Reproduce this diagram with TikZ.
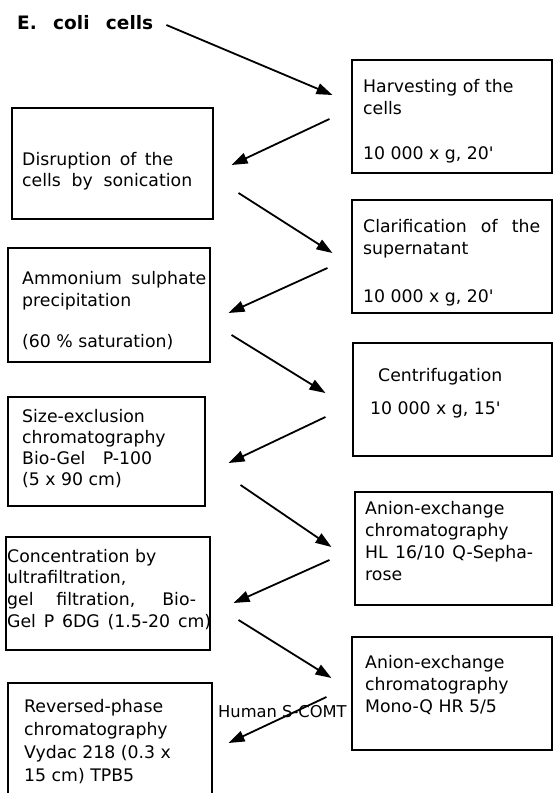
\documentclass[tikz,border=0pt]{standalone}
\usepackage{fontspec}
\setmainfont{DejaVu Sans}
\usetikzlibrary{arrows.meta}
\begin{document}
\begin{tikzpicture}[x=1pt,y=-1pt,
  box/.style={draw, line width=1.1pt, inner sep=0pt},
  txt/.style={anchor=west, inner sep=0pt, font=\fontsize{17.3pt}{21pt}\selectfont, text height=12.6pt, text depth=3.7pt},
  arr/.style={line width=1.8pt, -{Triangle[length=16pt,width=11pt]}}]
\fill[white] (0,0) rectangle (553,793);
\useasboundingbox (0,0) rectangle (553,793);

% title
\node[anchor=west, inner sep=0pt, font=\fontsize{18.5pt}{22pt}\bfseries\selectfont] (ecoli) at (17,23) {\makebox[136pt][s]{E. coli cells}};

% boxes
\node[box, minimum width=200pt, minimum height=113pt] (harv) at (452,116.5) {};
\node[box, minimum width=201pt, minimum height=111pt] (disr) at (112.5,163.5) {};
\node[box, minimum width=200pt, minimum height=113pt] (clar) at (452,256.5) {};
\node[box, minimum width=202pt, minimum height=114pt] (amm) at (109,305) {};
\node[box, minimum width=199pt, minimum height=113pt] (cent) at (452.5,399.5) {};
\node[box, minimum width=197pt, minimum height=109pt] (size) at (106.5,451.5) {};
\node[box, minimum width=197pt, minimum height=113pt] (anA) at (453.5,548.5) {};
\node[box, minimum width=204pt, minimum height=113pt] (conc) at (108,593.5) {};
\node[box, minimum width=200pt, minimum height=113pt] (anB) at (452,693.5) {};
\begin{scope}
\clip (0,0) rectangle (553,793);
\node[box, minimum width=204pt, minimum height=120pt] (rev) at (110,743) {};
\end{scope}

% texts
\node[txt] (h1) at (363,88) {Harvesting of the};
\node[txt] (h2) at (363,110) {cells};
\node[txt] (h3) at (363,155) {10 000 x g, 20\textquotesingle};

\node[txt] (d1) at (22,161) {\makebox[151pt][s]{Disruption of the}};
\node[txt] (d2) at (22,182) {\makebox[170pt][s]{cells by sonication}};

\node[txt] (c1) at (363,228) {\makebox[177pt][s]{Clarification of the}};
\node[txt] (c2) at (363,250) {supernatant};
\node[txt] (c3) at (363,298) {10 000 x g, 20\textquotesingle};

\node[txt] (a1) at (22,280) {\makebox[184pt][s]{Ammonium sulphate}};
\node[txt] (a2) at (22,302) {precipitation};
\node[txt] (a3) at (22,343) {(60 \% saturation)};

\node[txt] (e1) at (378,377) {Centrifugation};
\node[txt] (e2) at (370,410) {10 000 x g, 15\textquotesingle};

\node[txt] (s1) at (22,418) {Size-exclusion};
\node[txt] (s2) at (22,439) {chromatography};
\node[txt] (s3) at (22,460) {Bio-Gel\quad P-100};
\node[txt] (s4) at (22,481) {(5 x 90 cm)};

\node[txt] (k1) at (365,510) {Anion-exchange};
\node[txt] (k2) at (365,532) {chromatography};
\node[txt] (k3) at (365,554) {\makebox[168pt][s]{HL 16/10 Q-Sepha-}};
\node[txt] (k4) at (365,576) {rose};

\node[txt] (n1) at (7,558) {Concentration by};
\node[txt] (n2) at (7,579) {ultrafiltration,};
\node[txt] (n3) at (7,601) {\makebox[189pt][s]{gel filtration, Bio-}};
\node[txt] (n4) at (7,623) {\makebox[204pt][s]{Gel P 6DG (1.5-20 cm)}};

\node[txt] (m1) at (365,664) {Anion-exchange};
\node[txt] (m2) at (365,686) {chromatography};
\node[txt] (m3) at (365,708) {Mono-Q HR 5/5};

\node[txt] (r1) at (24,708) {Reversed-phase};
\node[txt] (r2) at (24,731) {chromatography};
\node[txt] (r3) at (24,754) {Vydac 218 (0.3 x};
\node[txt] (r4) at (24,777) {15 cm) TPB5};

\node[txt, font=\fontsize{16.3pt}{20pt}\selectfont] (human) at (218,713) {Human S-COMT};

% arrows
\draw[arr] ([shift={(13,2)}]ecoli.east) -- ([shift={(-19,-21.5)}]harv.west);
\draw[arr] ([shift={(-22,2.5)}]harv.west) -- ([shift={(18,1.5)}]disr.east);
\draw[arr] ([shift={(25,29.5)}]disr.east) -- ([shift={(-19,-3.5)}]clar.west);
\draw[arr] ([shift={(-24,11.5)}]clar.west) -- ([shift={(18,8)}]amm.east);
\draw[arr] ([shift={(21,30)}]amm.east) -- ([shift={(-27,-6.5)}]cent.west);
\draw[arr] ([shift={(-27,17.5)}]cent.west) -- ([shift={(23,11.5)}]size.east);
\draw[arr] ([shift={(35,33.5)}]size.east) -- ([shift={(-23,-1.5)}]anA.west);
\draw[arr] ([shift={(-25,11.5)}]anA.west) -- ([shift={(23,9.5)}]conc.east);
\draw[arr] ([shift={(28,26.5)}]conc.east) -- ([shift={(-20,-15.5)}]anB.west);
\draw[arr] ([shift={(-25,3.5)}]anB.west) -- ([shift={(16,0)}]rev.east);
\end{tikzpicture}
\end{document}
